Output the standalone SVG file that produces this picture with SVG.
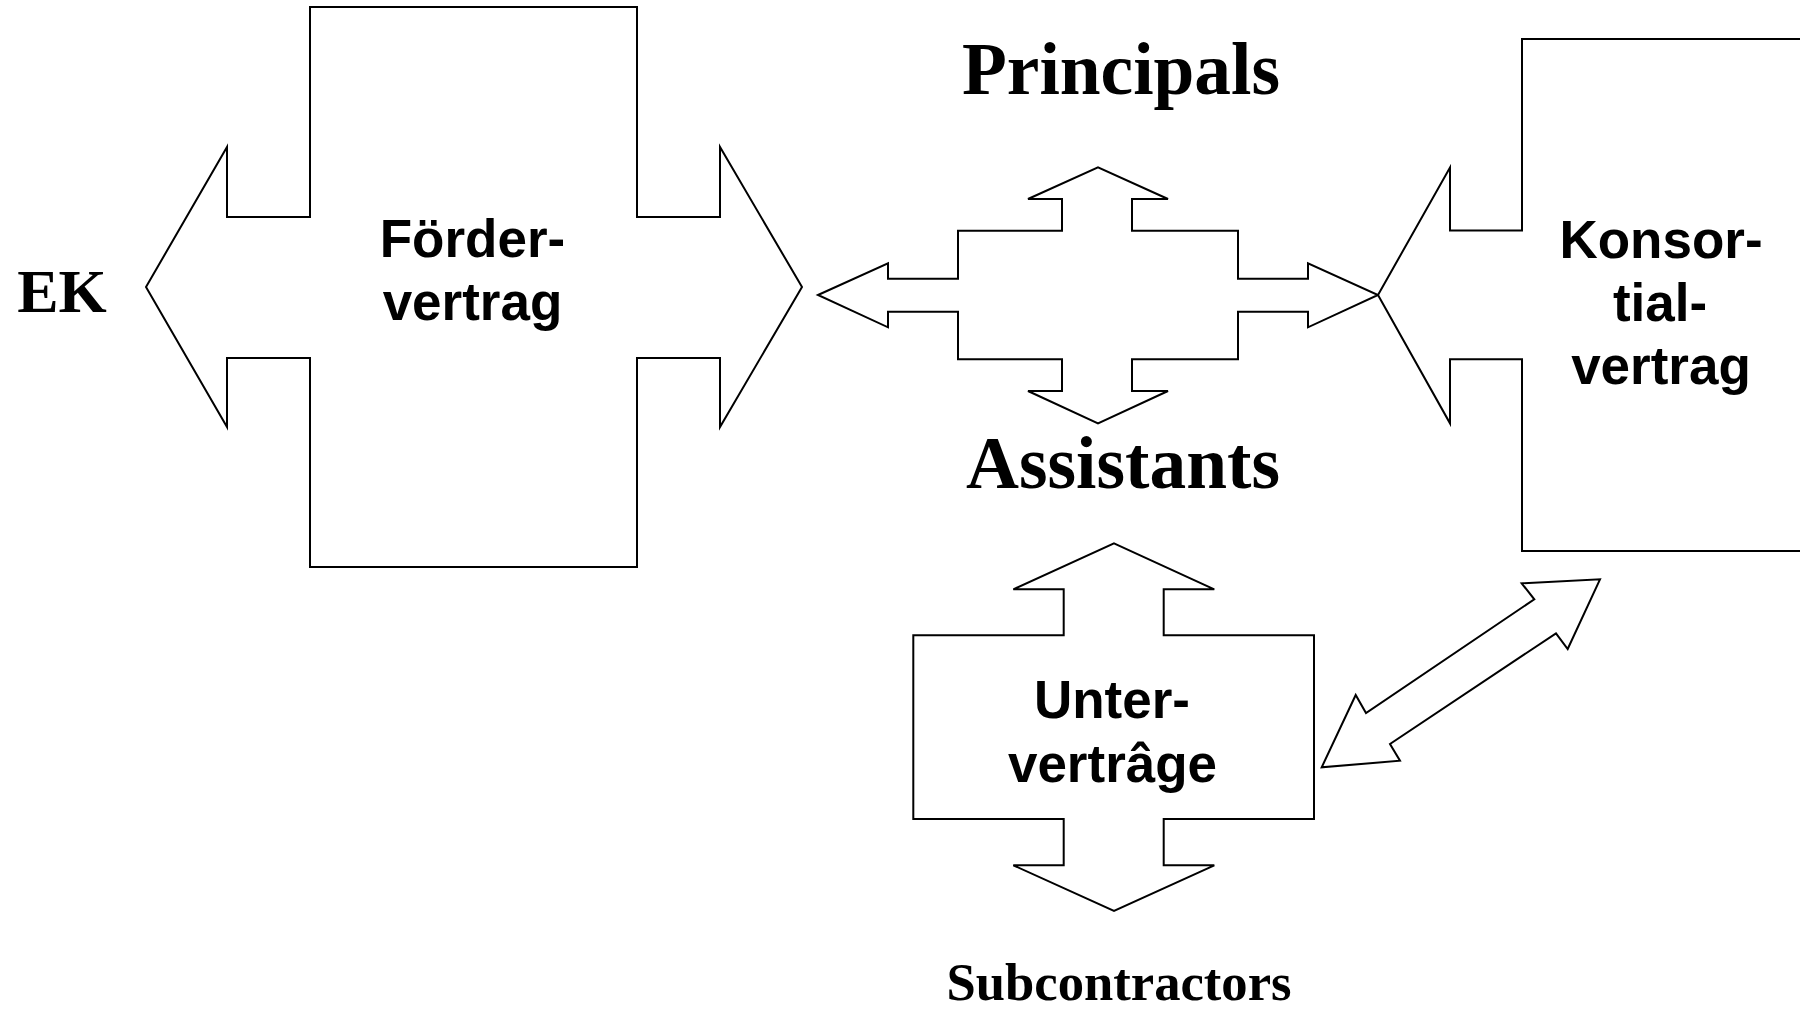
<svg xmlns="http://www.w3.org/2000/svg" width="1800" height="1012" viewBox="0 0 1800 1012">
<style>
.shape{fill:#fff;stroke:#000;stroke-width:2;stroke-linejoin:miter}
.lbl{font-family:"Liberation Sans",Arial,sans-serif;font-weight:bold;font-size:53px;fill:#000;text-anchor:middle}
.ttl{font-family:"Liberation Serif","Times New Roman",serif;font-weight:bold;fill:#000;text-anchor:middle}
</style>
<rect width="1800" height="1012" fill="#fff"/>
<g id="connectors">
<path id="cross" class="shape" d="M818,295 L888,263.3 L888,278.7 L958,278.7 L958,230.7 L1062,230.7 L1062,199 L1028,199 L1098,167.3 L1168,199 L1132,199 L1132,230.7 L1238,230.7 L1238,278.7 L1308,278.7 L1308,263.3 L1378,295 L1308,327.3 L1308,311.7 L1238,311.7 L1238,359.3 L1132,359.3 L1132,391 L1168,391 L1098,423.3 L1028,391 L1062,391 L1062,359.3 L958,359.3 L958,311.7 L888,311.7 L888,327.3 Z"/>
<path id="diag" class="shape" d="M1600,579.3 L1567.7,649 L1556,633.3 L1390,744 L1400,760.7 L1321.7,767.3 L1355.7,695 L1366,713 L1534.3,599.3 L1521.7,583.3 Z"/>
</g>
<g id="foerder">
<path class="shape" d="M310,7 L637,7 L637,217 L720,217 L720,147 L802,287 L720,427 L720,358 L637,358 L637,567 L310,567 L310,358 L227,358 L227,427 L146,287 L227,147 L227,217 L310,217 Z"/>
<text class="lbl" x="472.5" y="257">Förder-</text>
<text class="lbl" x="472.5" y="320">vertrag</text>
</g>
<g id="konsor">
<path class="shape" d="M1803,39 L1522,39 L1522,230.5 L1450,230.5 L1450,167.5 L1378,295 L1450,423.3 L1450,359.3 L1522,359.3 L1522,551 L1803,551 Z"/>
<text class="lbl" x="1661" y="257.5">Konsor-</text>
<text class="lbl" x="1660" y="321">tial-</text>
<text class="lbl" x="1661" y="384">vertrag</text>
</g>
<g id="unter">
<path class="shape" d="M1114,543.3 L1214.3,589.3 L1163.7,589.3 L1163.7,635.3 L1314,635.3 L1314,819 L1163.7,819 L1163.7,865.3 L1214.3,865.3 L1114,911 L1013.3,865.3 L1063.7,865.3 L1063.7,819 L913.3,819 L913.3,635.3 L1063.7,635.3 L1063.7,589.3 L1013.3,589.3 Z"/>
<text class="lbl" x="1112" y="718">Unter-</text>
<text class="lbl" x="1112.5" y="781.5">vertrâge</text>
</g>
<g id="ek"><text class="ttl" x="62" y="312" font-size="62">EK</text></g>
<g id="principals"><text class="ttl" x="1121" y="94" font-size="75" textLength="318" lengthAdjust="spacingAndGlyphs">Principals</text></g>
<g id="assistants"><text class="ttl" x="1123" y="488" font-size="74" textLength="314" lengthAdjust="spacingAndGlyphs">Assistants</text></g>
<g id="subcontractors"><text class="ttl" x="1119" y="1000" font-size="53" textLength="345" lengthAdjust="spacingAndGlyphs">Subcontractors</text></g>
</svg>
